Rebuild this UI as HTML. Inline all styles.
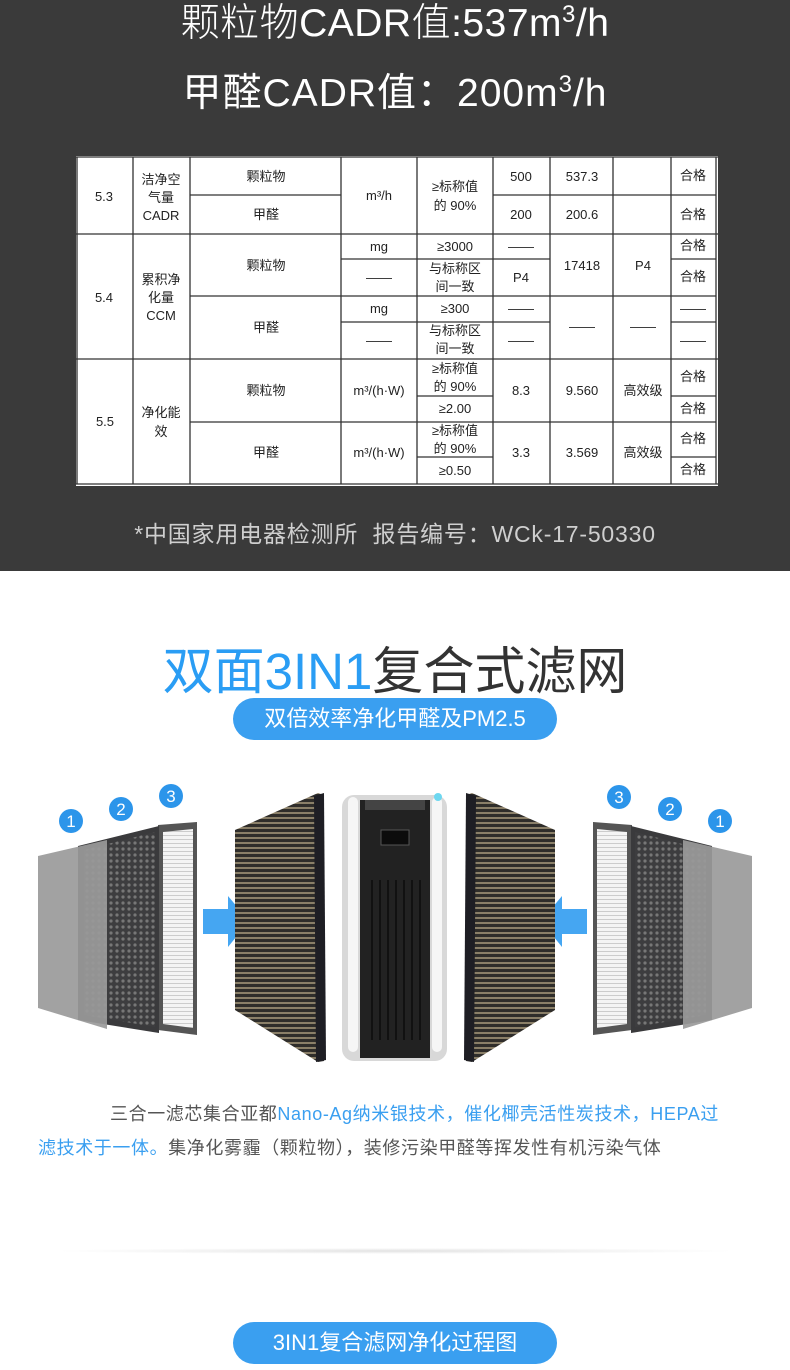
<!DOCTYPE html>
<html><head><meta charset="utf-8"><style>
*{margin:0;padding:0}
body{width:790px;height:1370px;background:#fff;position:relative;overflow:hidden;font-family:"Liberation Sans","Noto Sans CJK SC",sans-serif}
.dark{position:absolute;left:0;top:0;width:790px;height:571px;background:#3a3a3a}
.t{position:absolute;left:0;width:790px;text-align:center;white-space:nowrap}
.pill{position:absolute;left:233px;width:324px;height:42px;border-radius:21px;background:#3a9ff0;color:#fff;font-size:22px;line-height:42px;text-align:center}
.p{position:absolute;left:38px;width:720px;font-size:18px;color:#555;line-height:34px;letter-spacing:0.6px}
.b{color:#3a9ff0}
</style></head><body>
<div class="dark"></div>
<div class="t" style="top:-8px;font-size:39px;color:#fff;font-weight:300;letter-spacing:0.5px">颗粒物CADR值:537m<sup style="font-size:24px">3</sup>/h</div>
<div class="t" style="top:62px;font-size:39px;color:#fff;letter-spacing:1px">甲醛CADR值：200m<sup style="font-size:24px">3</sup>/h</div>
<svg style="position:absolute;left:0;top:0" width="790" height="571" font-family="Liberation Sans,Noto Sans CJK SC,sans-serif" font-size="13" fill="#222" text-anchor="middle">
<rect x="76" y="156" width="642" height="330" fill="#fff"/>
<g stroke="#333" stroke-width="1.3">
<line x1="76" y1="157" x2="718" y2="157"/><line x1="76" y1="484" x2="718" y2="484"/>
<line x1="76" y1="234" x2="718" y2="234"/><line x1="76" y1="359" x2="718" y2="359"/>
<line x1="190" y1="195" x2="341" y2="195"/><line x1="493" y1="195" x2="716" y2="195"/>
<line x1="341" y1="259" x2="550" y2="259"/><line x1="671" y1="259" x2="716" y2="259"/>
<line x1="190" y1="296" x2="716" y2="296"/>
<line x1="341" y1="322" x2="550" y2="322"/><line x1="671" y1="322" x2="716" y2="322"/>
<line x1="417" y1="396" x2="493" y2="396"/><line x1="671" y1="396" x2="716" y2="396"/>
<line x1="190" y1="422" x2="716" y2="422"/>
<line x1="417" y1="457" x2="493" y2="457"/><line x1="671" y1="457" x2="716" y2="457"/>
<line x1="77" y1="157" x2="77" y2="484"/><line x1="133" y1="157" x2="133" y2="484"/>
<line x1="190" y1="157" x2="190" y2="484"/><line x1="341" y1="157" x2="341" y2="484"/>
<line x1="417" y1="157" x2="417" y2="484"/><line x1="493" y1="157" x2="493" y2="484"/>
<line x1="550" y1="157" x2="550" y2="484"/><line x1="613" y1="157" x2="613" y2="484"/>
<line x1="671" y1="157" x2="671" y2="484"/><line x1="716" y1="157" x2="716" y2="484"/>
</g>
<text x="104" y="201">5.3</text><text x="161" y="184">洁净空</text><text x="161" y="202">气量</text><text x="161" y="220">CADR</text>
<text x="266" y="181">颗粒物</text><text x="266" y="219">甲醛</text>
<text x="379" y="200">m³/h</text><text x="455" y="191">≥标称值</text><text x="455" y="210">的 90%</text>
<text x="521" y="181">500</text><text x="582" y="181">537.3</text><text x="693" y="180">合格</text>
<text x="521" y="219">200</text><text x="582" y="219">200.6</text><text x="693" y="219">合格</text>
<text x="104" y="302">5.4</text><text x="161" y="284">累积净</text><text x="161" y="302">化量</text><text x="161" y="320">CCM</text>
<text x="266" y="270">颗粒物</text><text x="266" y="332">甲醛</text>
<text x="379" y="251">mg</text><text x="379" y="282">——</text><text x="379" y="313">mg</text><text x="379" y="345">——</text>
<text x="455" y="251">≥3000</text><text x="455" y="273">与标称区</text><text x="455" y="291">间一致</text>
<text x="455" y="313">≥300</text><text x="455" y="335">与标称区</text><text x="455" y="353">间一致</text>
<text x="521" y="251">——</text><text x="521" y="282">P4</text><text x="521" y="313">——</text><text x="521" y="345">——</text>
<text x="582" y="270">17418</text><text x="643" y="270">P4</text><text x="582" y="331">——</text><text x="643" y="331">——</text>
<text x="693" y="250">合格</text><text x="693" y="281">合格</text><text x="693" y="313">——</text><text x="693" y="345">——</text>
<text x="105" y="426">5.5</text><text x="161" y="417">净化能</text><text x="161" y="436">效</text>
<text x="266" y="395">颗粒物</text><text x="266" y="457">甲醛</text>
<text x="379" y="395">m³/(h·W)</text><text x="379" y="457">m³/(h·W)</text>
<text x="455" y="373">≥标称值</text><text x="455" y="391">的 90%</text><text x="455" y="413">≥2.00</text>
<text x="455" y="435">≥标称值</text><text x="455" y="453">的 90%</text><text x="455" y="475">≥0.50</text>
<text x="521" y="395">8.3</text><text x="582" y="395">9.560</text><text x="643" y="395">高效级</text>
<text x="521" y="457">3.3</text><text x="582" y="457">3.569</text><text x="643" y="457">高效级</text>
<text x="693" y="381">合格</text><text x="693" y="413">合格</text><text x="693" y="443">合格</text><text x="693" y="474">合格</text>
</svg>
<div class="t" style="top:515px;font-size:23px;color:#cfcfcf;letter-spacing:0.8px">*中国家用电器检测所&nbsp; 报告编号：WCk-17-50330</div>

<div class="t" style="top:630px;font-size:51px;color:#333"><span style="color:#2a9df4">双面3IN1</span>复合式滤网</div>
<div class="pill" style="top:698px">双倍效率净化甲醛及PM2.5</div>

<svg style="position:absolute;left:0;top:780px" width="790" height="300">
<defs>
<pattern id="st" width="6" height="5" patternUnits="userSpaceOnUse"><rect width="6" height="5" fill="#2f2d2a"/><rect y="2" width="6" height="2" fill="#8a7f68"/></pattern>
<pattern id="hc" width="6" height="6" patternUnits="userSpaceOnUse"><rect width="6" height="6" fill="#3d3d3f"/><circle cx="3" cy="3" r="1.6" fill="#777"/></pattern>
<pattern id="hp" width="4" height="4" patternUnits="userSpaceOnUse"><rect width="4" height="4" fill="#f4f4f4"/><rect y="3" width="4" height="1" fill="#ccc"/></pattern>
</defs>
<g transform="translate(0,-780)">
<polygon points="158,825 197,822 197,1035 158,1030" fill="#555"/>
<polygon points="163,832 193,829 193,1028 163,1024" fill="url(#hp)"/>
<polygon points="78,846 159,826 159,1033 78,1020" fill="#3a3a3c"/>
<polygon points="84,850 155,832 155,1027 84,1015" fill="url(#hc)"/>
<polygon points="38,856 107,840 107,1029 38,1008" fill="#9a9a9a" opacity="0.92"/>
<polygon points="632,825 593,822 593,1035 632,1030" fill="#555"/>
<polygon points="627,832 597,829 597,1028 627,1024" fill="url(#hp)"/>
<polygon points="712,846 631,826 631,1033 712,1020" fill="#3a3a3c"/>
<polygon points="706,850 635,832 635,1027 706,1015" fill="url(#hc)"/>
<polygon points="752,856 683,840 683,1029 752,1008" fill="#9a9a9a" opacity="0.92"/>
<polygon points="203,909 228,909 228,896 249,921 228,947 228,934 203,934" fill="#45a6f2"/>
<polygon points="587,909 562,909 562,896 541,921 562,947 562,934 587,934" fill="#45a6f2"/>
<polygon points="235,830 318,793 324,795 324,1061 318,1062 235,1010" fill="url(#st)"/>
<polygon points="314,796 324,793 326,1060 316,1062" fill="#1e1e24"/>
<polygon points="555,830 472,793 466,795 466,1061 472,1062 555,1010" fill="url(#st)"/>
<polygon points="476,796 466,793 464,1060 474,1062" fill="#1e1e24"/>
<rect x="342" y="795" width="105" height="266" rx="12" fill="#d8d8d8"/>
<rect x="348" y="797" width="10" height="255" rx="5" fill="#f6f6f6"/>
<rect x="432" y="797" width="10" height="255" rx="5" fill="#f6f6f6"/>
<rect x="360" y="800" width="70" height="258" fill="#222"/>
<rect x="365" y="800" width="60" height="10" fill="#444"/>
<rect x="381" y="830" width="28" height="15" fill="#0c0c0c" stroke="#555"/>
<g stroke="#111" stroke-width="2"><line x1="372" y1="880" x2="372" y2="1040"/><line x1="380" y1="880" x2="380" y2="1040"/><line x1="388" y1="880" x2="388" y2="1040"/><line x1="396" y1="880" x2="396" y2="1040"/><line x1="404" y1="880" x2="404" y2="1040"/><line x1="412" y1="880" x2="412" y2="1040"/><line x1="420" y1="880" x2="420" y2="1040"/></g>
<circle cx="438" cy="797" r="4" fill="#6dd7f0"/>
<g fill="#2c95ea"><circle cx="71" cy="821" r="12"/><circle cx="121" cy="809" r="12"/><circle cx="171" cy="796" r="12"/><circle cx="619" cy="797" r="12"/><circle cx="670" cy="809" r="12"/><circle cx="720" cy="821" r="12"/></g>
<g fill="#fff" font-family="Liberation Sans,sans-serif" font-size="17" text-anchor="middle"><text x="71" y="827">1</text><text x="121" y="815">2</text><text x="171" y="802">3</text><text x="619" y="803">3</text><text x="670" y="815">2</text><text x="720" y="827">1</text></g>
</g></svg>

<div class="p" style="top:1097px;text-indent:72px">三合一滤芯集合亚都<span class="b">Nano-Ag纳米银技术，催化椰壳活性炭技术，HEPA过<br>滤技术于一体。</span>集净化雾霾（颗粒物），装修污染甲醛等挥发性有机污染气体</div>
<div style="position:absolute;left:50px;top:1248px;width:690px;height:6px;background:radial-gradient(ellipse at center,#e2e2e2 0%,rgba(255,255,255,0) 70%)"></div>
<div class="pill" style="top:1322px">3IN1复合滤网净化过程图</div>
</body></html>
